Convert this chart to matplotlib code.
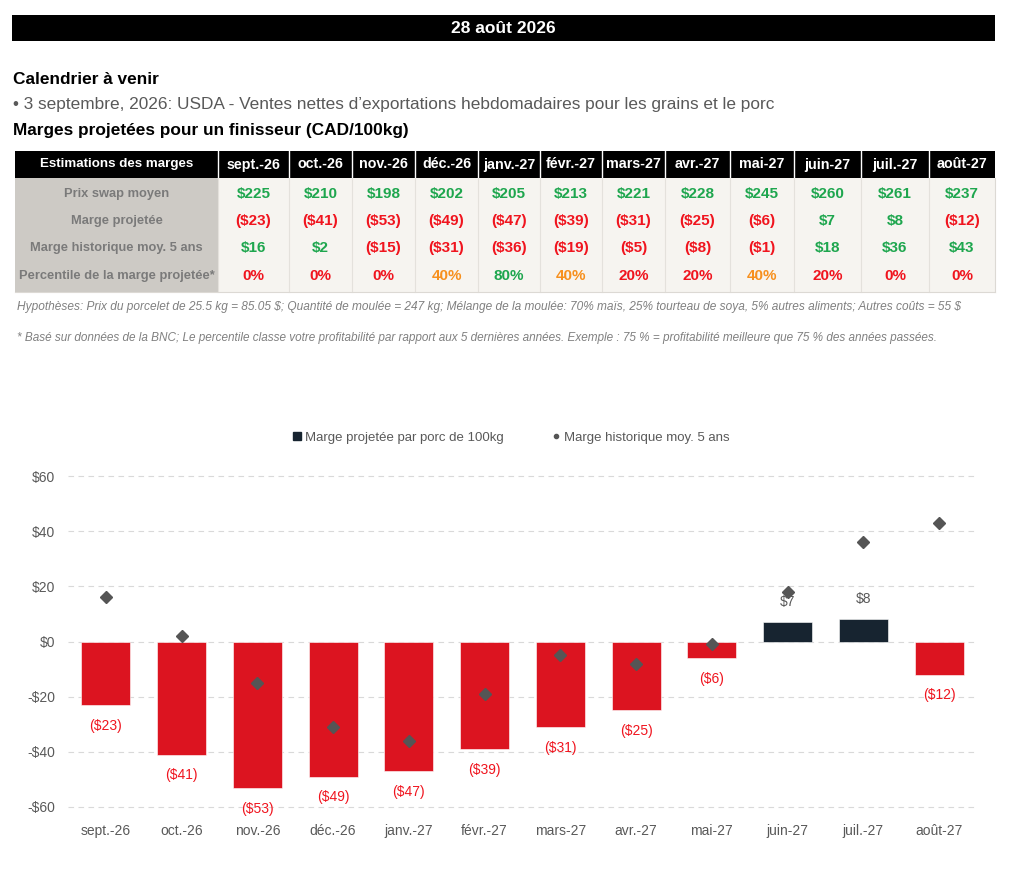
import matplotlib
matplotlib.use("Agg")
import matplotlib.pyplot as plt
from matplotlib.patches import Rectangle
from matplotlib.lines import Line2D

plt.rcParams["text.parse_math"] = False

# ---------------- data ----------------
date_title = "28 août 2026"
calendar_title = "Calendrier à venir"
calendar_item = "• 3 septembre, 2026: USDA - Ventes nettes d’exportations hebdomadaires pour les grains et le porc"
table_title = "Marges projetées pour un finisseur (CAD/100kg)"
table_corner = "Estimations des marges"
months = ["sept.-26", "oct.-26", "nov.-26", "déc.-26", "janv.-27", "févr.-27",
          "mars-27", "avr.-27", "mai-27", "juin-27", "juil.-27", "août-27"]
row_labels = ["Prix swap moyen", "Marge projetée", "Marge historique moy. 5 ans",
              "Percentile de la marge projetée*"]
swap_price = [225, 210, 198, 202, 205, 213, 221, 228, 245, 260, 261, 237]
projected_margin = [-23, -41, -53, -49, -47, -39, -31, -25, -6, 7, 8, -12]
hist_margin = [16, 2, -15, -31, -36, -19, -5, -8, -1, 18, 36, 43]
percentile = [0, 0, 0, 40, 80, 40, 20, 20, 40, 20, 0, 0]
note1 = ("Hypothèses: Prix du porcelet de 25.5 kg = 85.05 $; Quantité de moulée = 247 kg; "
         "Mélange de la moulée: 70% maïs, 25% tourteau de soya, 5% autres aliments; Autres coûts = 55 $")
note2 = ("* Basé sur données de la BNC; Le percentile classe votre profitabilité par rapport aux 5 "
         "dernières années. Exemple : 75 % = profitabilité meilleure que 75 % des années passées.")
legend_bar = "Marge projetée par porc de 100kg"
legend_pt = "Marge historique moy. 5 ans"
yticks = [-60, -40, -20, 0, 20, 40, 60]

# ---------------- styles ----------------
GREEN = "#1ea64e"
RED = "#f0141e"
ORANGE = "#f7901e"
GRAY_TXT = "#595959"
BAR_RED = "#dc1420"
BAR_NAVY = "#172430"
SANS = ["Liberation Sans", "DejaVu Sans"]

W, H = 1024, 888
fig = plt.figure(figsize=(W / 100, H / 100), dpi=100)
fig.patch.set_facecolor("white")

ov = fig.add_axes([0, 0, 1, 1])
ov.set_xlim(0, W)
ov.set_ylim(H, 0)
ov.axis("off")

ov.add_patch(Rectangle((12, 15), 983, 26, facecolor="black", edgecolor="none"))
ov.text(503, 28.5, date_title, color="white", ha="center", va="center",
        fontsize=12.5, fontweight="bold", family=SANS)

ov.text(13, 80, calendar_title, ha="left", va="center", fontsize=12.4,
        fontweight="bold", family=SANS, color="black")
ov.text(13, 104, calendar_item, ha="left", va="center", fontsize=12.4,
        family=SANS, color=GRAY_TXT)
ov.text(13, 131, table_title, ha="left", va="center", fontsize=12.4,
        fontweight="bold", family=SANS, color="black")

col_edges = [15, 218, 289, 352, 415, 478, 540, 602, 665, 730, 794, 861, 929, 995]
hdr_top, hdr_bot = 151, 178
body_bot = 292
row_y = [194, 221, 248, 276]

ov.add_patch(Rectangle((col_edges[0], hdr_top), col_edges[-1] - col_edges[0], hdr_bot - hdr_top,
                       facecolor="black", edgecolor="none"))
ov.add_patch(Rectangle((col_edges[0], hdr_bot), col_edges[1] - col_edges[0], body_bot - hdr_bot,
                       facecolor="#cdcac5", edgecolor="none"))
ov.add_patch(Rectangle((col_edges[1], hdr_bot), col_edges[-1] - col_edges[1], body_bot - hdr_bot,
                       facecolor="#f6f4f0", edgecolor="none"))
for xe in col_edges[1:-1]:
    ov.plot([xe, xe], [hdr_top, hdr_bot], color="white", lw=1)
    ov.plot([xe, xe], [hdr_bot, body_bot], color="#e4e1dc", lw=0.8)
ov.plot([col_edges[0], col_edges[-1]], [body_bot, body_bot], color="#dcd9d4", lw=0.8)
ov.plot([col_edges[-1], col_edges[-1]], [hdr_bot, body_bot], color="#dcd9d4", lw=0.8)

centers = [(col_edges[i] + col_edges[i + 1]) / 2 for i in range(len(col_edges) - 1)]
ov.text(centers[0], (hdr_top + hdr_bot) / 2, table_corner, color="white", ha="center",
        va="center", fontsize=9.6, fontweight="bold", family=SANS)
for i, m in enumerate(months):
    ov.text(centers[i + 1], (hdr_top + hdr_bot) / 2, m, color="white", ha="center",
            va="center", fontsize=10.3, fontweight="bold", family=SANS)
for r, lab in enumerate(row_labels):
    ov.text(centers[0], row_y[r], lab, color="#7a7a7a", ha="center", va="center",
            fontsize=9.3, fontweight="bold", family=SANS)


def money(v):
    return (f"${v}", GREEN) if v >= 0 else (f"(${-v})", RED)


def pct_color(p):
    if p >= 60:
        return GREEN
    if p >= 40:
        return ORANGE
    return RED


for i in range(len(months)):
    cx = centers[i + 1]
    for r, series in enumerate([swap_price, projected_margin, hist_margin]):
        s, c = money(series[i])
        ov.text(cx, row_y[r], s, color=c, ha="center", va="center", fontsize=11,
                fontweight="bold", family=SANS)
    ov.text(cx, row_y[3], f"{percentile[i]}%", color=pct_color(percentile[i]), ha="center",
            va="center", fontsize=11, fontweight="bold", family=SANS)

ov.text(17, 307, note1, ha="left", va="center", fontsize=8.6, style="italic",
        family=SANS, color="#808080")
ov.text(17, 338, note2, ha="left", va="center", fontsize=8.45, style="italic",
        family=SANS, color="#808080")

# ---------------- chart ----------------
ax = fig.add_axes([68 / W, 1 - 812.5 / H, (977 - 68) / W, (812.5 - 470.5) / H])
x = list(range(len(months)))
colors = [BAR_NAVY if v >= 0 else BAR_RED for v in projected_margin]
ax.bar(x, projected_margin, width=0.65, color=colors, edgecolor="white", linewidth=0.4, zorder=2)
ax.plot(x, hist_margin, linestyle="none", marker="D", markersize=6, color="#555555", zorder=3)

for xi, v in zip(x, projected_margin):
    s = f"${v}" if v >= 0 else f"(${-v})"
    c = GRAY_TXT if v >= 0 else RED
    ax.annotate(s, (xi, v), xytext=(0, 14.5 if v >= 0 else -15), textcoords="offset points",
                ha="center", va="center", fontsize=10, color=c, family=SANS, zorder=4)

ax.set_xlim(-0.5, len(months) - 0.5)
ax.set_ylim(-62, 62)
ax.set_yticks(yticks)
ax.set_yticklabels([f"${t}" if t >= 0 else f"-${-t}" for t in yticks])
ax.set_xticks(x)
ax.set_xticklabels(months)
for lab in ax.get_xticklabels() + ax.get_yticklabels():
    lab.set_family(SANS)
    lab.set_fontsize(10)
    lab.set_color(GRAY_TXT)
ax.tick_params(length=0, pad=8)
ax.tick_params(axis="y", pad=9)
for sp in ax.spines.values():
    sp.set_visible(False)
ax.grid(axis="y", linestyle=(0, (5, 4)), color="#d9d9d9", linewidth=0.8, zorder=0)
ax.set_axisbelow(True)

handles = [
    Line2D([], [], linestyle="none", marker="s", markersize=6, color=BAR_NAVY),
    Line2D([], [], linestyle="none", marker="o", markersize=3, color="#555555"),
]
leg = fig.legend(handles, [legend_bar, legend_pt], loc="center", bbox_to_anchor=(510 / W, 1 - 438 / H),
                 ncol=2, frameon=False, handletextpad=0.15, columnspacing=3.4, handlelength=1,
                 prop={"family": SANS, "size": 9.5})
for t in leg.get_texts():
    t.set_color(GRAY_TXT)

fig.savefig("out.png", dpi=100, facecolor="white")
